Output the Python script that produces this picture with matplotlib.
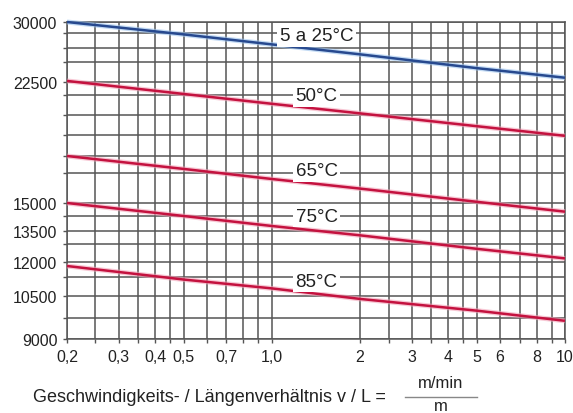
import matplotlib
matplotlib.use("Agg")
import matplotlib.pyplot as plt
from matplotlib.lines import Line2D
import numpy as np

plt.rcParams['font.family'] = ['Liberation Sans', 'DejaVu Sans']

# v/L ratio (m/min per m) and curve values
x_vals = [0.2, 0.5, 1.0, 2.0, 5.0, 10.0]
y_5_25 = [30000, 27950, 26700, 25400, 23800, 22900]
y_50 = [22600, 21350, 20700, 20100, 19300, 18700]
y_65 = [17500, 16550, 16000, 15600, 15050, 14500]
y_75 = [15000, 14250, 13750, 13250, 12550, 12150]
y_85 = [11800, 11150, 10800, 10400, 10000, 9650]
curves = [y_5_25, y_50, y_65, y_75, y_85]
curve_labels = ["5 a 25°C", "50°C", "65°C", "75°C", "85°C"]

x_grid = [0.2, 0.25, 0.3, 0.35, 0.4, 0.45, 0.5, 0.6, 0.7, 0.8, 0.9, 1.0,
          2, 2.5, 3, 3.5, 4, 4.5, 5, 6, 7, 8, 9, 10]
x_labels = {0.2: "0,2", 0.3: "0,3", 0.4: "0,4", 0.5: "0,5", 0.7: "0,7",
            1.0: "1,0", 2: "2", 3: "3", 4: "4", 5: "5", 6: "6", 8: "8", 10: "10"}

y_grid = [9000, 9750, 10500, 11250, 12000, 12750, 13500, 14250, 15000,
          16250, 17500, 18750, 20000, 21250, 22500, 24375, 26250, 28125, 30000]
y_labeled = [9000, 10500, 12000, 13500, 15000, 22500, 30000]

# the printed y axis is not linear: position of each grid line (px from bottom)
y_grid_pos = [0, 21, 43, 62, 77, 95, 108, 123, 136, 166, 183, 204, 224,
              244, 257, 277, 291, 306, 317]


def y_fwd(v):
    return np.interp(v, y_grid, y_grid_pos)


def y_inv(p):
    return np.interp(p, y_grid_pos, y_grid)


W, H = 573, 414
fig = plt.figure(figsize=(W / 100, H / 100), dpi=100)
ax = fig.add_axes([67 / W, (H - 340) / H, (565 - 67) / W, (340 - 23) / H])
ax.set_xscale('log')
ax.set_yscale('function', functions=(y_fwd, y_inv))
ax.set_xlim(0.2, 10)
ax.set_ylim(9000, 30000)

ax.set_xticks(x_grid, [x_labels.get(v, "") for v in x_grid])
ax.set_xticks([], minor=True)
ax.set_yticks(y_grid, [str(v) if v in y_labeled else "" for v in y_grid])
ax.set_yticks([], minor=True)
ax.tick_params(direction='out', length=3, width=1, color='#555555',
               labelsize=11.5, labelcolor='#222222', pad=4)
ax.grid(True, color='#555555', linewidth=1.1)
for s in ax.spines.values():
    s.set_color('#555555')
    s.set_linewidth(1.1)

colors = ['#27498f', '#c4123f', '#c4123f', '#c4123f', '#c4123f']
glows = ['#9cc3ee', '#f2a3b8', '#f2a3b8', '#f2a3b8', '#f2a3b8']
for ys, c, g in zip(curves, colors, glows):
    ax.plot(x_vals, ys, color=g, lw=3.6, alpha=0.6, clip_on=False, zorder=3,
            solid_capstyle='butt')
    ax.plot(x_vals, ys, color=c, lw=1.8, clip_on=False, zorder=4,
            solid_capstyle='butt')

label_y = [27800, 21190, 16400, 14250, 11090]
for txt, ly in zip(curve_labels, label_y):
    ax.text(1.42, ly, txt, ha='center', va='center', fontsize=13.5,
            color='#222222', zorder=5,
            bbox=dict(facecolor='white', edgecolor='none', pad=2))

fig.text(386 / W, 1 - 398 / H, "Geschwindigkeits- / Längenverhältnis v / L =",
         ha='right', va='center', fontsize=13, color='#222222')
fig.text(441 / W, 1 - 384 / H, "m/min", ha='center', va='center',
         fontsize=12, color='#222222')
fig.add_artist(Line2D([405 / W, 477 / W], [1 - 398 / H, 1 - 398 / H],
                      color='#888888', lw=1))
fig.text(441 / W, 1 - 407 / H, "m", ha='center', va='center',
         fontsize=12, color='#222222')

fig.savefig("out.png", dpi=100)
